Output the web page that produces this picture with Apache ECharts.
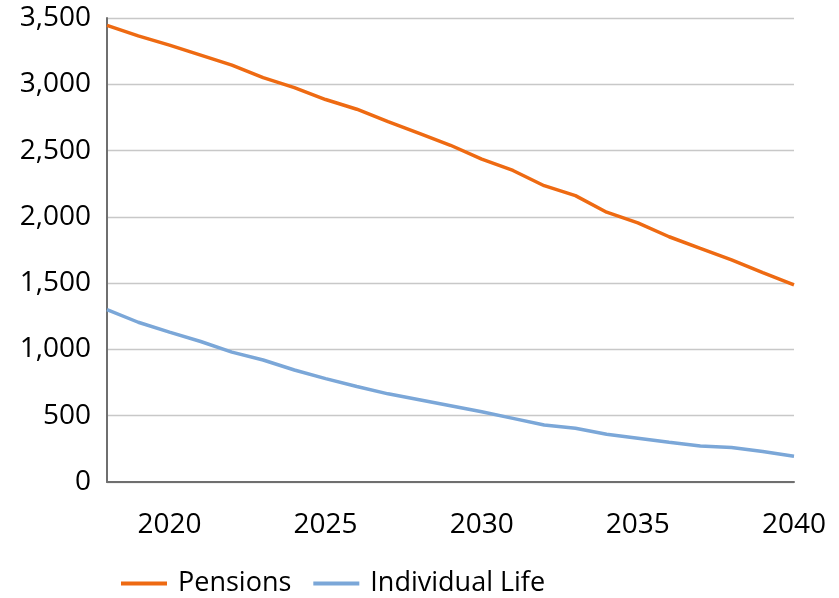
<!DOCTYPE html>
<html>
<head>
<meta charset="utf-8">
<script src="https://cdn.jsdelivr.net/npm/echarts@6/dist/echarts.min.js"></script>
<style>
  html, body { margin: 0; padding: 0; background: #ffffff; }
  #chart { width: 839px; height: 598px; }
</style>
</head>
<body>
<div id="chart"></div>
<script>
// Projected counts by year, 2018–2040
const years = ['2018','2019','2020','2021','2022','2023','2024','2025','2026','2027','2028','2029',
               '2030','2031','2032','2033','2034','2035','2036','2037','2038','2039','2040'];
const pensions = [3445, 3365, 3295, 3220, 3145, 3050, 2975, 2885, 2812, 2718, 2630, 2540,
                  2435, 2350, 2235, 2160, 2035, 1955, 1850, 1762, 1675, 1580, 1487];
const individualLife = [1300, 1205, 1130, 1060, 980, 920, 845, 780, 720, 665, 620, 575,
                        530, 480, 430, 405, 360, 330, 300, 272, 260, 230, 195];
const seriesNames = ['Pensions', 'Individual Life'];
const yTicks = { min: 0, max: 3500, step: 500 };

const FONT = '"Open Sans", "Liberation Sans", sans-serif';
const FONT_SIZE = 28;
const ORANGE = '#EE6A12';
const BLUE = '#7BA7D8';

const chart = echarts.init(document.getElementById('chart'), null, { renderer: 'canvas' });

chart.setOption({
  animation: false,
  backgroundColor: '#ffffff',
  grid: { left: 107, right: 45, top: 18, bottom: 116, containLabel: false },
  legend: {
    left: 121,
    top: 570,
    padding: 0,
    itemWidth: 46,
    itemHeight: 4,
    itemGap: 22,
    icon: 'rect',
    textStyle: { fontFamily: FONT, fontSize: 27, color: '#000000', padding: [0, 0, 0, 6] },
    data: seriesNames
  },
  xAxis: {
    type: 'category',
    data: years,
    boundaryGap: false,
    axisLine: { show: true, lineStyle: { color: '#6f6f6f', width: 2 } },
    axisTick: { show: false },
    axisLabel: {
      interval: (i, v) => Number(v) % 5 === 0,
      margin: 29,
      fontFamily: FONT,
      fontSize: FONT_SIZE,
      color: '#000000'
    },
    splitLine: { show: false }
  },
  yAxis: {
    type: 'value',
    min: yTicks.min,
    max: yTicks.max,
    interval: yTicks.step,
    axisLine: { show: true, lineStyle: { color: '#6f6f6f', width: 2 } },
    axisTick: { show: false },
    axisLabel: {
      margin: 16,
      fontFamily: FONT,
      fontSize: FONT_SIZE,
      color: '#000000',
      formatter: v => v.toLocaleString('en-US')
    },
    splitLine: { show: true, lineStyle: { color: '#c8c8c8', width: 1.3 } }
  },
  series: [
    {
      name: seriesNames[0],
      type: 'line',
      data: pensions,
      symbol: 'none',
      color: ORANGE,
      lineStyle: { color: ORANGE, width: 3.5 }
    },
    {
      name: seriesNames[1],
      type: 'line',
      data: individualLife,
      symbol: 'none',
      color: BLUE,
      lineStyle: { color: BLUE, width: 3.5 }
    }
  ]
});
</script>
</body>
</html>
